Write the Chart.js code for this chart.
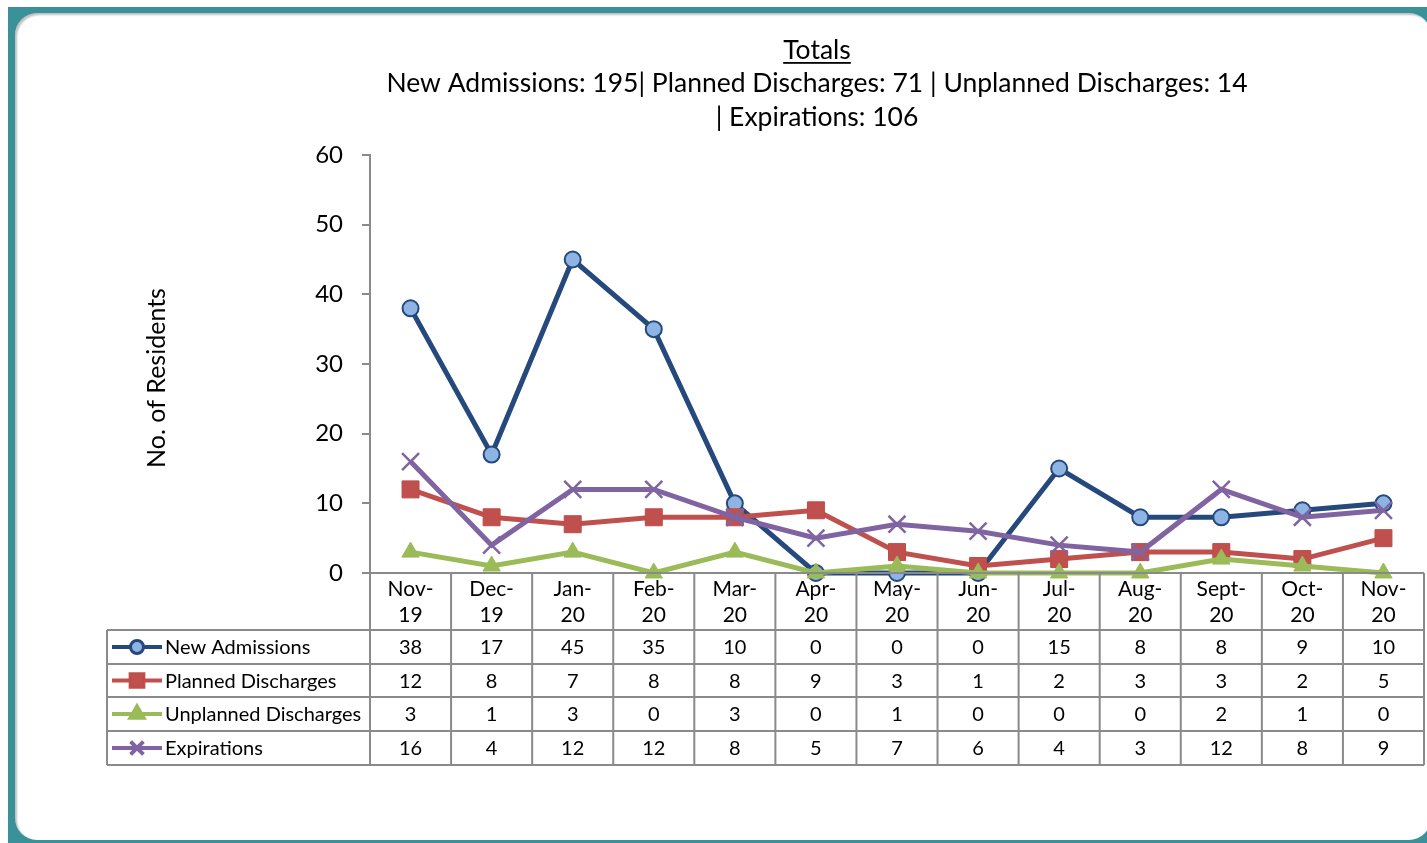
<!DOCTYPE html>
<html lang="en">
  <head>
    <meta charset="UTF-8" />
    <title>Totals</title>
    <style>
      html, body {
        margin: 0;
        padding: 0;
        width: 1427px;
        height: 843px;
        overflow: hidden;
        background: #ffffff;
      }
      .frame {
        position: absolute;
        left: 8px;
        top: 7px;
        width: 1440px;
        height: 860px;
        background: #3a9199;
      }
      .panel {
        position: absolute;
        left: 15px;
        top: 13px;
        width: 1416px;
        height: 827px;
        background: #ffffff;
        border-radius: 22px;
        box-shadow: inset 2px 2px 2px rgba(0, 0, 0, 0.25);
      }
      #chart {
        position: absolute;
        left: 0;
        top: 0;
      }
    </style>
  </head>
  <body>
    <div class="frame"></div>
    <div class="panel"></div>
    <canvas id="chart" width="1427" height="843"></canvas>

    <script src="https://cdn.jsdelivr.net/npm/chart.js"></script>
    <script>
      // data
      const months = ["Nov-19", "Dec-19", "Jan-20", "Feb-20", "Mar-20", "Apr-20", "May-20",
        "Jun-20", "Jul-20", "Aug-20", "Sept-20", "Oct-20", "Nov-20"]
      const newAdmissions = [38, 17, 45, 35, 10, 0, 0, 0, 15, 8, 8, 9, 10]
      const plannedDischarges = [12, 8, 7, 8, 8, 9, 3, 1, 2, 3, 3, 2, 5]
      const unplannedDischarges = [3, 1, 3, 0, 3, 0, 1, 0, 0, 0, 2, 1, 0]
      const expirations = [16, 4, 12, 12, 8, 5, 7, 6, 4, 3, 12, 8, 9]
      const yTicks = [0, 10, 20, 30, 40, 50, 60]

      const titleLines = [
        "Totals",
        "New Admissions: 195| Planned Discharges: 71 | Unplanned Discharges: 14",
        "| Expirations: 106",
      ]
      const yTitle = "No. of Residents"

      const FONT = "Lato, 'Open Sans', sans-serif"
      const GRAY = "#8a8a8a"

      // title + y title + data table under the plot
      const extras = {
        id: "extras",
        afterDraw(chart) {
          const ctx = chart.ctx
          const area = chart.chartArea
          const xs = chart.scales.x
          ctx.save()
          ctx.fillStyle = "#000"
          ctx.textAlign = "center"
          ctx.textBaseline = "middle"

          // title
          const cx = 817
          ctx.font = "26.5px " + FONT
          ctx.fillText(titleLines[0], cx, 50)
          const tw = ctx.measureText(titleLines[0]).width
          ctx.fillRect(cx - tw / 2, 62, tw, 1.8)
          ctx.fillText(titleLines[1], cx, 83)
          ctx.fillText(titleLines[2], cx, 117)

          // y axis title
          ctx.save()
          ctx.translate(157, 378)
          ctx.rotate(-Math.PI / 2)
          ctx.font = "25px " + FONT
          ctx.fillText(yTitle, 0, 0)
          ctx.restore()

          // table
          const n = months.length
          const w = (area.right - area.left) / n
          const top = area.bottom
          const rows = [630, 664, 697, 731, 765]
          const legendLeft = 107

          ctx.strokeStyle = GRAY
          ctx.lineWidth = 2
          ctx.beginPath()
          ctx.moveTo(area.left, top)
          ctx.lineTo(area.right, top)
          rows.forEach((y) => {
            ctx.moveTo(legendLeft, y)
            ctx.lineTo(area.right, y)
          })
          for (let i = 0; i <= n; i++) {
            const x = area.left + i * w
            ctx.moveTo(x, top)
            ctx.lineTo(x, rows[rows.length - 1])
          }
          ctx.moveTo(legendLeft, rows[0])
          ctx.lineTo(legendLeft, rows[rows.length - 1])
          ctx.stroke()

          // month labels
          ctx.font = "21px " + FONT
          months.forEach((m, i) => {
            const x = xs.getPixelForValue(i)
            const parts = m.split("-")
            ctx.fillText(parts[0] + "-", x, 589)
            ctx.fillText(parts[1], x, 615)
          })

          // rows
          ctx.font = "20px " + FONT
          chart.data.datasets.forEach((ds, r) => {
            const yc = (rows[r] + rows[r + 1]) / 2
            ds.data.forEach((v, i) => {
              ctx.fillText(String(v), xs.getPixelForValue(i), yc + 1)
            })
            // legend key
            ctx.strokeStyle = ds.borderColor
            ctx.lineWidth = 4
            ctx.beginPath()
            ctx.moveTo(112, yc)
            ctx.lineTo(162, yc)
            ctx.stroke()
            Chart.helpers.drawPoint(ctx, {
              pointStyle: ds.pointStyle,
              radius: ds.pointRadius * 0.75,
              rotation: 0,
              borderWidth: ds.pointBorderWidth,
            }, 137, yc)
            ctx.fillStyle = ds.pointBackgroundColor
            ctx.strokeStyle = ds.pointBorderColor
            ctx.lineWidth = ds.pointBorderWidth
            if (ds.pointStyle !== "crossRot") ctx.fill()
            ctx.stroke()
            ctx.fillStyle = "#000"
            ctx.textAlign = "left"
            ctx.fillText(ds.label, 165, yc + 1)
            ctx.textAlign = "center"
          })
          ctx.restore()
        },
      }

      new Chart(document.getElementById("chart"), {
        type: "line",
        data: {
          labels: months,
          datasets: [
            {
              label: "New Admissions",
              data: newAdmissions,
              borderColor: "#25497d",
              borderWidth: 5,
              pointStyle: "circle",
              pointRadius: 8,
              pointBackgroundColor: "#8db4e2",
              pointBorderColor: "#25497d",
              pointBorderWidth: 2,
              order: 4,
            },
            {
              label: "Planned Discharges",
              data: plannedDischarges,
              borderColor: "#c0504d",
              borderWidth: 5,
              pointStyle: "rect",
              pointRadius: 12,
              pointBackgroundColor: "#c0504d",
              pointBorderColor: "#be4b48",
              pointBorderWidth: 1,
              order: 3,
            },
            {
              label: "Unplanned Discharges",
              data: unplannedDischarges,
              borderColor: "#9bbb59",
              borderWidth: 5,
              pointStyle: "triangle",
              pointRadius: 10,
              pointBackgroundColor: "#9bbb59",
              pointBorderColor: "#9bbb59",
              pointBorderWidth: 1,
              order: 2,
            },
            {
              label: "Expirations",
              data: expirations,
              borderColor: "#8064a2",
              borderWidth: 5,
              pointStyle: "crossRot",
              pointRadius: 12,
              pointBackgroundColor: "#8064a2",
              pointBorderColor: "#8064a2",
              pointBorderWidth: 2.5,
              order: 1,
            },
          ],
        },
        options: {
          responsive: false,
          animation: false,
          clip: false,
          layout: {
            autoPadding: false,
            padding: { top: 155, right: 3, bottom: 270, left: 0 },
          },
          plugins: {
            legend: { display: false },
            title: { display: false },
            tooltip: { enabled: false },
          },
          elements: { line: { tension: 0 } },
          scales: {
            x: {
              display: false,
              offset: true,
              afterFit(scale) {
                scale.height = 0
                scale.paddingLeft = 0
                scale.paddingRight = 0
              },
            },
            y: {
              min: 0,
              max: 60,
              afterBuildTicks(scale) {
                scale.ticks = yTicks.map((v) => ({ value: v }))
              },
              grid: {
                drawOnChartArea: false,
                drawTicks: true,
                tickLength: 8,
                color: GRAY,
                lineWidth: 2,
              },
              border: { color: GRAY, width: 2 },
              ticks: {
                color: "#000",
                padding: 19,
                font: { family: FONT, size: 24 },
              },
              afterFit(scale) {
                scale.width = 370
                scale.paddingTop = 0
                scale.paddingBottom = 0
              },
            },
          },
        },
        plugins: [extras],
      })
    </script>
  </body>
</html>
